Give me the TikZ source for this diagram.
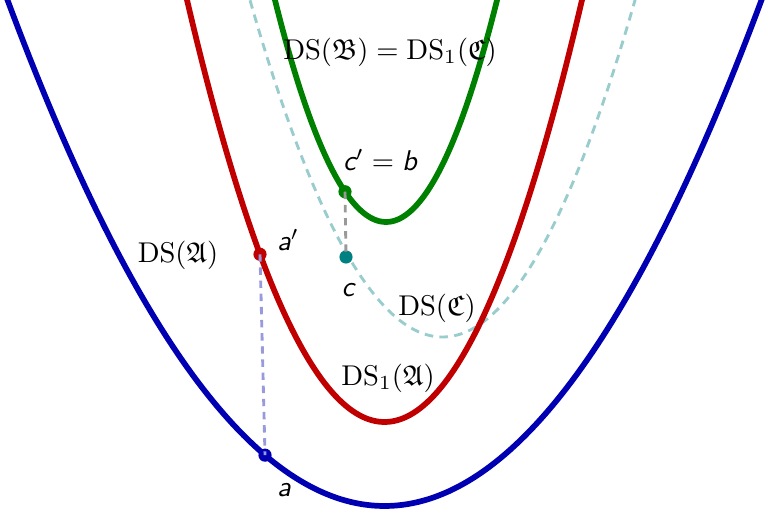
\documentclass[tikz,border=0pt]{standalone}
\usepackage{amssymb}
\usetikzlibrary{positioning}
\definecolor{dsblue}{HTML}{0000B2}
\definecolor{dsred}{HTML}{C00000}
\definecolor{dsgreen}{HTML}{008000}
\definecolor{dsteal}{HTML}{99CCCC}
\definecolor{dscyan}{HTML}{008080}
\definecolor{dslav}{HTML}{9999DD}
\definecolor{dsgray}{HTML}{999999}
\tikzset{
  ds curve/.style={line width=2pt, line join=round},
  ds shifted/.style={line width=1pt, draw=dsteal, dash pattern=on 3pt off 2.2pt},
  ds link/.style={line width=1pt, dash pattern=on 2.6pt off 2pt},
  ds dot/.style={circle, inner sep=0pt, minimum size=4pt, line width=0.6pt},
  ds label/.style={inner sep=1pt},
  ds sans/.style={inner sep=1pt, font=\sffamily\itshape}
}
\begin{document}
\begin{tikzpicture}[x=0.35pt, y=-0.35pt]
  \useasboundingbox (0,0) rectangle (765,511);
  \clip (0,0) rectangle (765,511);
  % the four curves (scaled by 100 to keep numbers small)
  \draw[ds shifted] plot[domain=246:639, samples=120] (\x, {337-90.9*((\x-442.5)/100)^2});
  \draw[ds curve, dsblue] plot[domain=3:766, samples=150] (\x, {506-35.6*((\x-384.5)/100)^2});
  \draw[ds curve, dsred] plot[domain=183:586, samples=120] (\x, {422-108.2*((\x-384.5)/100)^2});
  \draw[ds curve, dsgreen] plot[domain=272:500, samples=100] (\x, {222-180*((\x-386)/100)^2});
  % points
  \node[ds dot, fill=dsblue, draw=dsblue] (a) at (265, {506-35.6*((265-384.5)/100)^2}) {};
  \node[ds dot, fill=dsred, draw=dsred] (ap) at (260, {422-108.2*((260-384.5)/100)^2}) {};
  \node[ds dot, fill=dsgreen, draw=dsgreen] (cp) at (345, {222-180*((345-386)/100)^2}) {};
  \node[ds dot, fill=dscyan, draw=dscyan] (c) at (346, 257) {};
  \draw[ds link, dslav] (ap.center) -- (a.center);
  \draw[ds link, dsgray] (cp.center) -- (c.center);
  % labels
  \node[ds label] (lblBC) at (390,52) {$\mathrm{DS}(\mathfrak{B})=\mathrm{DS}_1(\mathfrak{C})$};
  \node[ds label] (lblA) at (178,255) {$\mathrm{DS}(\mathfrak{A})$};
  \node[ds label] (lblC) at (437,308) {$\mathrm{DS}(\mathfrak{C})$};
  \node[ds label] (lblA1) at (388,378) {$\mathrm{DS}_1(\mathfrak{A})$};
  \node[ds sans] (lblcp) at (380,160) {$\textsf{\textit{c}}'=\textsf{\textit{b}}$};
  \node[ds sans] (lblap) at (288,240) {$\textsf{\textit{a}}'$};
  \node[ds sans] (lblc) at (348,290) {c};
  \node[ds sans] (lbla) at (284,490) {a};
\end{tikzpicture}
\end{document}
